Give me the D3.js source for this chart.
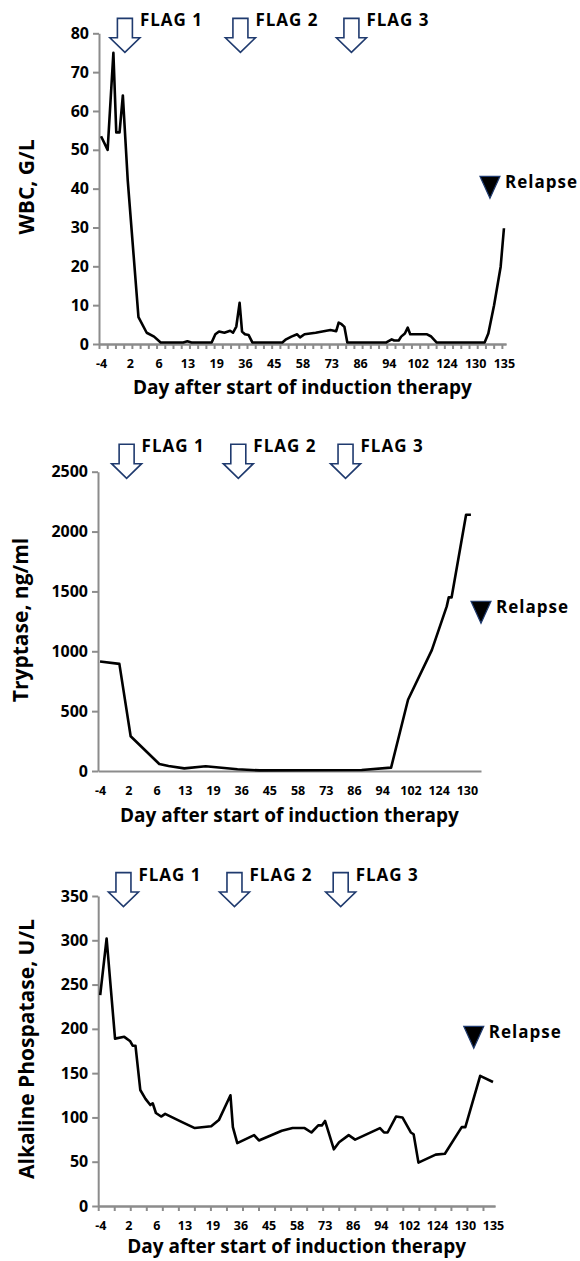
<!DOCTYPE html>
<html>
<head>
<meta charset="utf-8">
<script src="https://cdnjs.cloudflare.com/ajax/libs/d3/7.8.5/d3.min.js"></script>
<style>
body { margin: 0; background: #fff; }
text { font-family: "Open Sans", sans-serif; font-weight: 700; fill: #000; }
</style>
</head>
<body>
<div id="chart"></div>
<script>
// Day labels shown under the category axis (one every 7 samples)
var dayLabels = ["-4","2","6","13","19","36","45","58","73","86","94","102","124","130","135"];

// WBC, G/L : sample position on the axis and value
var wbcPos = [0, 1.6, 3.0, 3.7, 4.5, 5.3, 6.5, 9.1, 11.1, 12.9, 14.5, 20, 21, 22, 26.9, 27.8, 28.7, 30.0, 31.4, 32.1, 32.9, 33.7, 34.3, 35.0, 35.9, 36.8,
              44.1, 45.0, 46.3, 47.7, 48.4, 49.5, 52.2, 55.8, 57.2, 57.8, 58.5, 59.2, 59.9, 69.4, 70.7, 71.3, 72.4, 73.0, 73.9, 74.6, 75.2,
              79.3, 80.2, 81.6, 93.3, 94.2, 95.6, 97.2, 98];
var wbcVal = [53.5, 50, 75, 54.5, 54.5, 64, 42, 6.9, 2.9, 1.9, 0.4, 0.4, 0.7, 0.4, 0.4, 2.5, 3.2, 2.9, 3.4, 2.9, 4.5, 10.6, 3.2, 2.5, 2.3, 0.4,
              0.4, 1.2, 1.9, 2.5, 1.7, 2.5, 2.9, 3.6, 3.3, 5.5, 5.1, 4.4, 0.4, 0.4, 1.2, 0.9, 0.9, 1.9, 2.7, 4.2, 2.5,
              2.5, 2.0, 0.4, 0.4, 2.7, 10, 19.9, 29.8];

// Tryptase, ng/ml
var trypPos = [0, 4.8, 7.6, 14.7, 17, 20.9, 26.2, 34.1, 39.6, 64.9, 72.2, 76.4, 82.3, 86.0, 86.5, 87.2, 90.8, 92];
var trypVal = [915, 895, 290, 58, 42, 22, 40, 14, 5, 8, 28, 595, 1010, 1375, 1450, 1450, 2140, 2140];

// Alkaline Phospatase, U/L
var alpPos = [0, 1.6, 3.7, 6.0, 7.5, 8.1, 8.8, 10.0, 11.3, 12.5, 13.1, 13.9, 15.2, 16.2, 20.3, 23.6, 27.7, 29.6, 32.5, 33.1, 34.2,
              38.4, 39.6, 45.3, 48, 51, 52.7, 54.4, 55.3, 56.1, 58.3, 59.6, 62, 63.6, 69.8, 70.8, 71.7, 73.8, 75.4, 77.5, 78.2,
              79.4, 83.7, 86, 90.2, 91.1, 94.8, 98];
var alpVal = [238, 302, 189, 191, 186, 181, 181, 131, 121, 114, 116, 105, 101, 104, 95, 88, 90, 97, 125, 89, 71,
              80, 74, 85, 88, 88, 83, 91, 91, 96, 64, 72, 80, 75, 88, 83, 83, 101, 100, 83, 81,
              49, 58, 59, 89, 89, 147, 140];

// FLAG cycles (axis position) and relapse marker [position, value]
var wbcFlags = [5.8, 33.9, 60.9], trypFlags = [6.6, 34.3, 60.9], alpFlags = [5.8, 33.5, 60.0];
var wbcRelapse = [94.6, 37.5], trypRelapse = [94.5, 1234], alpRelapse = [93.2, 178];

var WIDTH = 580, HEIGHT = 1261;
var AXIS = "#8c8c8c", NAVY = "#1f3a6e";

var svg = d3.select("#chart").append("svg")
    .attr("width", WIDTH)
    .attr("height", HEIGHT);

var panels = [
  {pos: wbcPos, val: wbcVal, yMax: 80, yStep: 10, nCat: 99, tickEvery: 2, labels: dayLabels,
   title: "WBC, G/L", flags: wbcFlags, flagTip: 75.1, relapse: wbcRelapse,
   left: 99, right: 506, top: 33.3, bottom: 344, titleX: 34, titleY: 187, xTitleY: 394},
  {pos: trypPos, val: trypVal, yMax: 2500, yStep: 500, nCat: 95, tickEvery: 0, labels: dayLabels.slice(0, 14),
   title: "Tryptase, ng/ml", flags: trypFlags, flagTip: 2445, relapse: trypRelapse,
   left: 98, right: 481, top: 471.7, bottom: 771, titleX: 28, titleY: 620, xTitleY: 822},
  {pos: alpPos, val: alpVal, yMax: 350, yStep: 50, nCat: 99, tickEvery: 4, labels: dayLabels,
   title: "Alkaline Phospatase, U/L", flags: alpFlags, flagTip: 338, relapse: alpRelapse,
   left: 98.2, right: 495, top: 896, bottom: 1206, titleX: 34, titleY: 1049, xTitleY: 1253}
];

panels.forEach(function(p) {
  var x = d3.scaleLinear().domain([-0.5, p.nCat - 0.5]).range([p.left, p.right]);
  var y = d3.scaleLinear().domain([0, p.yMax]).range([p.bottom, p.top]);
  var g = svg.append("g");

  // y axis
  var ya = g.append("g")
      .attr("transform", "translate(" + p.left + ",0)")
      .call(d3.axisLeft(y).tickValues(d3.range(0, p.yMax + 1, p.yStep))
            .tickFormat(d3.format("d"))
            .tickSize(6).tickSizeOuter(0).tickPadding(4));
  ya.attr("font-family", null).attr("font-size", 16);

  // x axis: tick marks at sample boundaries, labels every 7 samples
  if (p.tickEvery) {
    g.append("g")
      .attr("transform", "translate(0," + p.bottom + ")")
      .call(d3.axisBottom(x).tickValues(d3.range(-0.5, p.nCat - 0.5, p.tickEvery))
            .tickFormat("").tickSize(5).tickSizeOuter(0));
  }
  var xa = g.append("g")
      .attr("transform", "translate(0," + p.bottom + ")")
      .call(d3.axisBottom(x).tickValues(p.labels.map(function(d, i) { return i * 7; }))
            .tickFormat(function(d, i) { return p.labels[i]; })
            .tickSize(0).tickSizeOuter(0).tickPadding(15));
  xa.attr("font-family", null).attr("font-size", 12.5);

  g.selectAll(".domain, .tick line").attr("stroke", AXIS).attr("stroke-width", 2);
  g.selectAll(".tick text").attr("fill", "#000");

  // series line
  var line = d3.line()
      .x(function(d, i) { return x(p.pos[i]); })
      .y(function(d) { return y(d); });
  g.append("path")
      .attr("d", line(p.val))
      .attr("fill", "none")
      .attr("stroke", "#000")
      .attr("stroke-width", 2.6)
      .attr("stroke-linejoin", "round");

  // axis titles
  g.append("text")
      .attr("transform", "translate(" + p.titleX + "," + p.titleY + ") rotate(-90)")
      .attr("text-anchor", "middle")
      .attr("font-size", 21)
      .text(p.title);
  g.append("text")
      .attr("x", (p.left + p.right) / 2)
      .attr("y", p.xTitleY)
      .attr("text-anchor", "middle")
      .attr("font-size", 19)
      .text("Day after start of induction therapy");

  // FLAG arrows
  p.flags.forEach(function(c, i) {
    var tx = x(c), ty = y(p.flagTip);
    var pts = [[tx - 7.5, ty - 34], [tx + 7.5, ty - 34], [tx + 7.5, ty - 14.6], [tx + 15, ty - 14.6],
               [tx, ty], [tx - 15, ty - 14.6], [tx - 7.5, ty - 14.6]];
    g.append("path")
        .attr("d", "M" + pts.join("L") + "Z")
        .attr("fill", "#fff")
        .attr("stroke", NAVY)
        .attr("stroke-width", 1.6);
    g.append("text")
        .attr("x", tx + 15)
        .attr("y", ty - 26)
        .attr("font-size", 17)
        .attr("letter-spacing", 1)
        .text("FLAG " + (i + 1));
  });

  // relapse marker
  var rx = x(p.relapse[0]), ry = y(p.relapse[1]);
  g.append("path")
      .attr("d", "M" + (rx - 10) + "," + (ry - 22) + "L" + (rx + 10) + "," + (ry - 22) + "L" + rx + "," + ry + "Z")
      .attr("fill", "#000")
      .attr("stroke", NAVY)
      .attr("stroke-width", 1.2);
  g.append("text")
      .attr("x", rx + 15)
      .attr("y", ry - 10)
      .attr("font-size", 17)
      .attr("letter-spacing", 1)
      .text("Relapse");
});
</script>
</body>
</html>
